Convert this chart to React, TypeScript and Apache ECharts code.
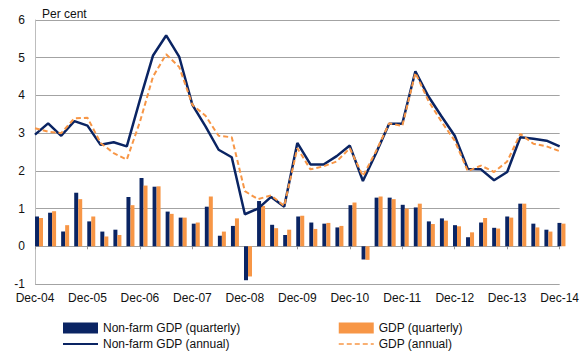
import React, { useEffect, useRef } from "react";
import * as echarts from "echarts";

// Quarterly categories Dec-04 .. Dec-14
const monthNames = ["Mar", "Jun", "Sep", "Dec"];
const categories: string[] = [];
for (let i = 0; i <= 40; i++) {
  const q = 3 + i;
  const year = 2004 + Math.floor(q / 4);
  categories.push(`${monthNames[q % 4]}-${String(year % 100).padStart(2, "0")}`);
}

const nonFarmQuarterly = [
  0.79, 0.89, 0.39, 1.42, 0.66, 0.39, 0.44, 1.31, 1.81, 1.58,
  0.92, 0.76, 0.6, 1.05, 0.28, 0.54, -0.9, 1.2, 0.57, 0.3,
  0.79, 0.63, 0.6, 0.5, 1.09, -0.35, 1.29, 1.29, 1.1, 1.03,
  0.66, 0.74, 0.56, 0.24, 0.63, 0.49, 0.79, 1.13, 0.6, 0.44,
  0.62,
];
const gdpQuarterly = [
  0.75, 0.93, 0.56, 1.25, 0.79, 0.26, 0.3, 1.09, 1.61, 1.59,
  0.86, 0.76, 0.63, 1.32, 0.39, 0.74, -0.8, 1.07, 0.48, 0.44,
  0.81, 0.46, 0.62, 0.54, 1.16, -0.36, 1.32, 1.25, 1.0, 1.13,
  0.59, 0.68, 0.53, 0.37, 0.75, 0.47, 0.76, 1.13, 0.5, 0.39,
  0.6,
];
const nonFarmAnnual = [
  2.96, 3.26, 2.93, 3.32, 3.2, 2.69, 2.76, 2.65, 3.88, 5.06,
  5.59, 5.02, 3.75, 3.18, 2.56, 2.36, 0.85, 1.0, 1.31, 1.05,
  2.74, 2.17, 2.17, 2.39, 2.67, 1.73, 2.47, 3.25, 3.25, 4.64,
  3.97, 3.44, 2.93, 2.05, 2.04, 1.75, 1.97, 2.89, 2.85, 2.8,
  2.65,
];
const gdpAnnual = [
  3.13, 3.04, 3.0, 3.39, 3.41, 2.74, 2.47, 2.3, 3.3, 4.5,
  5.09, 4.75, 3.75, 3.46, 2.93, 2.89, 1.46, 1.25, 1.35, 1.07,
  2.6, 2.04, 2.12, 2.25, 2.6, 1.86, 2.52, 3.26, 3.19, 4.6,
  3.85, 3.3, 2.8, 1.99, 2.14, 1.97, 2.25, 2.98, 2.72, 2.65,
  2.52,
];

const NAVY = "#0a2463";
const ORANGE = "#f79646";
const FONT = "Liberation Sans";

export default function App() {
  const ref = useRef<HTMLDivElement>(null);
  useEffect(() => {
    document.body.style.margin = "0";
    if (!ref.current) return;
    const chart = echarts.init(ref.current, undefined, { renderer: "svg" });
    const legendBase = {
      orient: "vertical",
      top: 322,
      padding: 0,
      itemWidth: 35,
      itemHeight: 11,
      itemGap: 4,
      textStyle: { fontSize: 12, color: "#111", fontFamily: FONT },
    };
    const option: any = {
      animation: false,
      textStyle: { fontFamily: FONT },
      title: {
        text: "Per cent",
        left: 37,
        top: 3,
        textStyle: { fontSize: 12, fontWeight: "normal", color: "#111", fontFamily: FONT },
      },
      grid: [
        { left: 35, right: 17, top: 20, bottom: 67 },
        { left: 32.5, right: 14, top: 20, bottom: 67 },
      ],
      xAxis: [
        {
          type: "category",
          gridIndex: 0,
          data: categories,
          boundaryGap: false,
          position: "bottom",
          axisLine: { show: false, onZero: false },
          axisTick: { show: false },
          axisLabel: { interval: 3, fontSize: 12, color: "#111", margin: 8, fontFamily: FONT },
          splitLine: { show: false },
        },
        {
          type: "category",
          gridIndex: 1,
          data: categories,
          boundaryGap: true,
          show: false,
        },
        {
          type: "category",
          gridIndex: 0,
          data: categories,
          boundaryGap: false,
          position: "bottom",
          axisLine: { show: false, onZero: true },
          axisTick: { show: true, interval: 3, length: 3, lineStyle: { color: "#999" } },
          axisLabel: { show: false },
          splitLine: { show: false },
        },
      ],
      yAxis: [
        {
          type: "value",
          gridIndex: 0,
          min: -1,
          max: 6,
          interval: 1,
          axisLine: { show: true, lineStyle: { color: "#bdbdbd" } },
          axisTick: { show: false },
          axisLabel: { fontSize: 12, color: "#111", margin: 10, fontFamily: FONT },
          splitLine: { show: true, lineStyle: { color: "#a3a3a3", width: 1 } },
        },
        {
          type: "value",
          gridIndex: 1,
          min: -1,
          max: 6,
          interval: 1,
          show: false,
          splitLine: { show: false },
        },
      ],
      legend: [
        {
          ...legendBase,
          left: 62,
          data: [
            { name: "Non-farm GDP (quarterly)", icon: "rect" },
            { name: "Non-farm GDP (annual)", itemStyle: { opacity: 0 }, lineStyle: { width: 2 } },
          ],
        },
        {
          ...legendBase,
          left: 338,
          data: [
            { name: "GDP (quarterly)", icon: "rect" },
            { name: "GDP (annual)", itemStyle: { opacity: 0 }, lineStyle: { width: 1.5 } },
          ],
        },
      ],
      series: [
        {
          name: "Non-farm GDP (quarterly)",
          type: "bar",
          xAxisIndex: 1,
          yAxisIndex: 1,
          data: nonFarmQuarterly,
          barWidth: 4,
          barGap: "0%",
          itemStyle: { color: NAVY },
          z: 2,
        },
        {
          name: "GDP (quarterly)",
          type: "bar",
          xAxisIndex: 1,
          yAxisIndex: 1,
          data: gdpQuarterly,
          barWidth: 4,
          barGap: "0%",
          itemStyle: { color: ORANGE },
          z: 2,
        },
        {
          name: "Non-farm GDP (annual)",
          type: "line",
          xAxisIndex: 0,
          yAxisIndex: 0,
          data: nonFarmAnnual,
          symbol: "none",
          lineStyle: { color: NAVY, width: 2.5 },
          itemStyle: { color: NAVY },
          z: 5,
        },
        {
          name: "GDP (annual)",
          type: "line",
          xAxisIndex: 0,
          yAxisIndex: 0,
          data: gdpAnnual,
          symbol: "none",
          lineStyle: { color: ORANGE, width: 2, type: [5, 3] },
          itemStyle: { color: ORANGE },
          z: 6,
        },
      ],
    };
    chart.setOption(option);
    return () => chart.dispose();
  }, []);
  return <div ref={ref} style={{ width: 582, height: 351 }} />;
}
